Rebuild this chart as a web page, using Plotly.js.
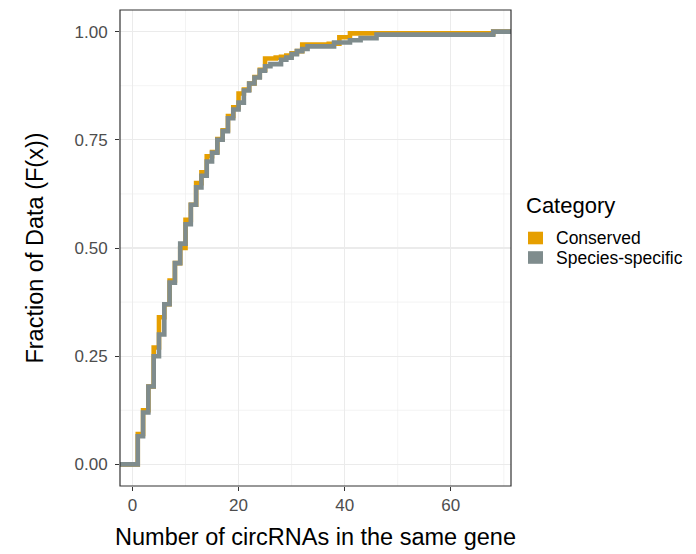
<!DOCTYPE html>
<html>
<head>
<meta charset="utf-8">
<script src="https://cdn.plot.ly/plotly-3.0.1.min.js"></script>
<style>html,body{margin:0;padding:0;background:#fff;}#chart{width:696px;height:554px;}</style>
</head>
<body>
<div id="chart"></div>
<script>
// Conserved ECDF steps (x, F(x))
const conservedX = [0,1,2,3,4,5,6,7,8,9,10,11,12,13,14,15,16,17,18,19,20,21,22,23,24,25,27,28,29,30,31,32,37,39,41,68];
const conservedF = [0,0.07,0.125,0.18,0.27,0.34,0.37,0.425,0.465,0.50,0.565,0.60,0.65,0.675,0.712,0.722,0.752,0.772,0.805,0.825,0.857,0.866,0.88,0.895,0.912,0.938,0.94,0.942,0.945,0.95,0.955,0.97,0.972,0.987,0.996,1.0];
// Species-specific ECDF steps
const specificX = [0,1,2,3,4,5,6,7,8,9,10,11,12,13,14,15,16,17,18,19,20,21,22,23,24,25,26,28,29,30,31,32,33,38,41,43,46,68];
const specificF = [0,0.065,0.12,0.18,0.25,0.30,0.37,0.42,0.465,0.51,0.555,0.60,0.64,0.667,0.70,0.72,0.75,0.77,0.80,0.82,0.836,0.864,0.88,0.894,0.91,0.92,0.925,0.935,0.94,0.948,0.955,0.96,0.966,0.975,0.98,0.985,0.993,1.0];
const categories = ["Conserved", "Species-specific"];
const colors = ["#E69F00", "#7F8C8D"];
const xTicks = [0, 20, 40, 60];
const yTicks = [0, 0.25, 0.5, 0.75, 1.0];
const yTickText = ["0.00", "0.25", "0.50", "0.75", "1.00"];

// ecdf padding to -Inf / +Inf
function pad(xs, fs) {
  return { x: [-1000].concat(xs, [1000]), y: [0].concat(fs, [1]) };
}
const c = pad(conservedX, conservedF);
const s = pad(specificX, specificF);

const traces = [
  { x: c.x, y: c.y, type: 'scatter', mode: 'lines', line: { shape: 'hv', color: colors[0], width: 4.6 }, name: categories[0], showlegend: false, hoverinfo: 'skip' },
  { x: s.x, y: s.y, type: 'scatter', mode: 'lines', line: { shape: 'hv', color: colors[1], width: 4.6 }, name: categories[1], showlegend: false, hoverinfo: 'skip' }
];

const F = "Liberation Sans, Arial, Helvetica, sans-serif";
const minorX = [10, 30, 50, 70];
const minorY = [0.125, 0.375, 0.625, 0.875];
const shapes = [];
minorX.forEach(v => shapes.push({ type: 'line', xref: 'x', yref: 'paper', x0: v, x1: v, y0: 0, y1: 1, line: { color: '#EBEBEB', width: 0.6 }, layer: 'below' }));
minorY.forEach(v => shapes.push({ type: 'line', xref: 'paper', yref: 'y', x0: 0, x1: 1, y0: v, y1: v, line: { color: '#EBEBEB', width: 0.6 }, layer: 'below' }));
// panel border
shapes.push({ type: 'rect', xref: 'paper', yref: 'paper', x0: 0, x1: 1, y0: 0, y1: 1, line: { color: '#333333', width: 1.2 }, fillcolor: 'rgba(0,0,0,0)' });
// legend keys (paper coords)
const plotW = 696 - 120 - 185, plotH = 554 - 10 - 68;
function px2paperX(p) { return (p - 120) / plotW; }
function py2paperY(p) { return (554 - 68 - p) / plotH; }
const keyY = [238, 257.5];
categories.forEach((cat, i) => {
  shapes.push({ type: 'rect', xref: 'paper', yref: 'paper', x0: px2paperX(528), x1: px2paperX(543), y0: py2paperY(keyY[i] + 6.3), y1: py2paperY(keyY[i] - 6.3), line: { width: 0 }, fillcolor: colors[i] });
});
const annotations = [
  { xref: 'paper', yref: 'paper', x: px2paperX(524), y: py2paperY(205), text: 'Category', showarrow: false, xanchor: 'left', yanchor: 'middle', font: { family: F, size: 22, color: '#000' } }
];
categories.forEach((cat, i) => {
  annotations.push({ xref: 'paper', yref: 'paper', x: px2paperX(554), y: py2paperY(keyY[i]), text: cat, showarrow: false, xanchor: 'left', yanchor: 'middle', font: { family: F, size: 17.5, color: '#000' } });
});

const layout = {
  width: 696, height: 554,
  margin: { l: 120, r: 185, t: 10, b: 68 },
  paper_bgcolor: '#fff', plot_bgcolor: '#fff',
  font: { family: F },
  showlegend: false,
  xaxis: {
    range: [-2.35, 71.35], tickvals: xTicks, ticktext: xTicks.map(String),
    showgrid: true, gridcolor: '#EBEBEB', gridwidth: 1.1, zeroline: false,
    ticks: 'outside', ticklen: 4, tickcolor: '#333333', tickwidth: 1,
    tickfont: { family: F, size: 17, color: '#4D4D4D' },
    showline: false,
    title: { text: 'Number of circRNAs in the same gene', font: { family: F, size: 23.5, color: '#000' }, standoff: 14 }
  },
  yaxis: {
    range: [-0.05, 1.05], tickvals: yTicks, ticktext: yTickText,
    showgrid: true, gridcolor: '#EBEBEB', gridwidth: 1.1, zeroline: false,
    ticks: 'outside', ticklen: 4, tickcolor: '#333333', tickwidth: 1,
    ticklabelstandoff: 4,
    tickfont: { family: F, size: 17, color: '#4D4D4D' },
    showline: false,
    title: { text: 'Fraction of Data (F(x))', font: { family: F, size: 23.5, color: '#000' }, standoff: 24 }
  },
  shapes: shapes,
  annotations: annotations
};
Plotly.newPlot('chart', traces, layout, { displayModeBar: false, staticPlot: true });
</script>
</body>
</html>
